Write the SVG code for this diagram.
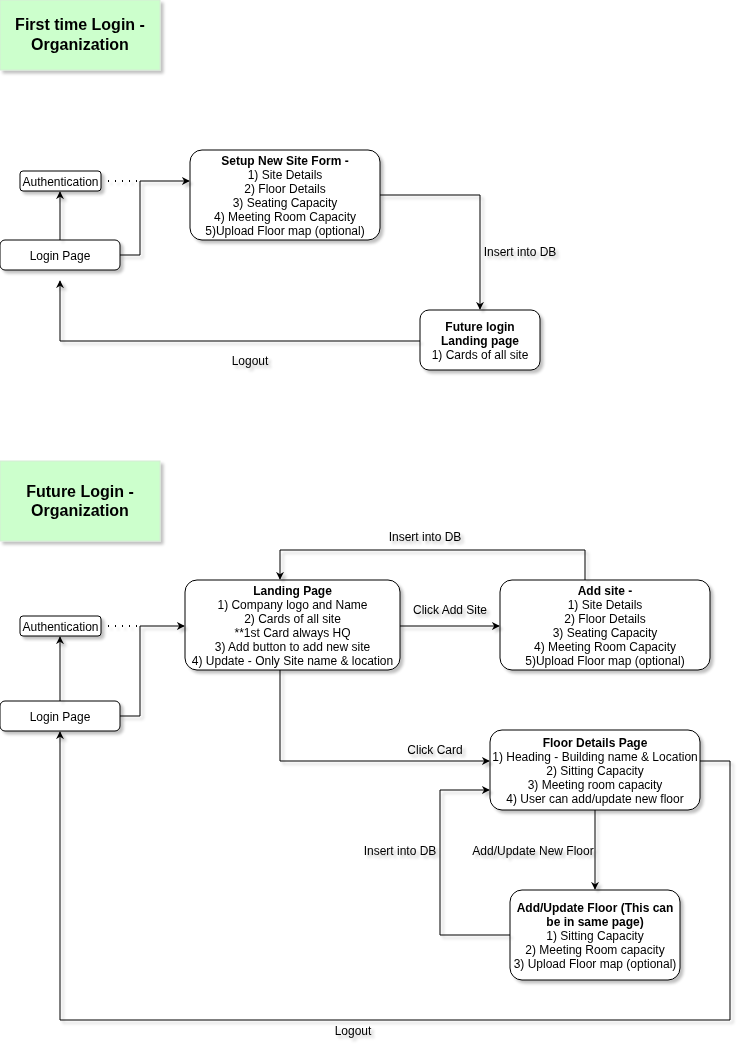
<svg xmlns="http://www.w3.org/2000/svg" width="751" height="1052" viewBox="0 0 751 1052">
<style>
  .box { fill: #ffffff; stroke: #000000; stroke-width: 1; }
  .title { fill: #ccffcc; stroke: #d5ecd5; stroke-width: 1; }
  text { font-family: "Liberation Sans", Arial, sans-serif; font-size: 12px; fill: #000; text-anchor: middle; }
  .b { font-weight: bold; }
  .tt { font-size: 16px; font-weight: bold; }
  .edge { fill: none; stroke: #000; stroke-width: 1; }
  .dot { fill: none; stroke: #000; stroke-width: 2; stroke-dasharray: 1 6; }
  .sh { filter: url(#shadow); }
</style>
<defs>
  <filter id="shadow" x="-10%" y="-10%" width="130%" height="140%">
    <feGaussianBlur in="SourceAlpha" stdDeviation="1.5"/>
    <feOffset dx="3" dy="3" result="o"/>
    <feComponentTransfer><feFuncA type="linear" slope="0.25"/></feComponentTransfer>
    <feMerge><feMergeNode/><feMergeNode in="SourceGraphic"/></feMerge>
  </filter>
  <marker id="arr" viewBox="0 0 10 10" refX="9" refY="5" markerWidth="8" markerHeight="8" markerUnits="userSpaceOnUse" orient="auto">
    <path d="M0,0 L10,5 L0,10 L3,5 Z" fill="#000"/>
  </marker>
</defs>
<rect width="751" height="1052" fill="#ffffff"/>

<g id="title1" class="sh">
  <rect class="title" x="0" y="0" width="160" height="70"/>
  <text class="tt" x="80" y="30">First time Login -</text>
  <text class="tt" x="80" y="50">Organization</text>
</g>

<g id="auth1" class="sh">
  <rect class="box" x="20" y="171" width="81" height="20" rx="3"/>
  <text x="60.5" y="185.5">Authentication</text>
</g>
<g id="login1" class="sh">
  <rect class="box" x="0" y="240" width="120" height="30" rx="5"/>
  <text x="60" y="259.5">Login Page</text>
</g>
<g id="setup" class="sh">
  <rect class="box" x="190" y="150" width="190" height="90" rx="12"/>
  <text class="b" x="285" y="165">Setup New Site Form -</text>
  <text x="285" y="179">1) Site Details</text>
  <text x="285" y="193">2) Floor Details</text>
  <text x="285" y="207">3) Seating Capacity</text>
  <text x="285" y="221">4) Meeting Room Capacity</text>
  <text x="285" y="235">5)Upload Floor map (optional)</text>
</g>
<g id="future1" class="sh">
  <rect class="box" x="420" y="310" width="120" height="60" rx="9"/>
  <text class="b" x="480" y="331">Future login</text>
  <text class="b" x="480" y="345">Landing page</text>
  <text x="480" y="359">1) Cards of all site</text>
</g>

<g id="title2" class="sh">
  <rect class="title" x="0" y="461" width="160" height="80"/>
  <text class="tt" x="80" y="497">Future Login -</text>
  <text class="tt" x="80" y="516">Organization</text>
</g>
<g id="auth2" class="sh">
  <rect class="box" x="20" y="616" width="81" height="20" rx="3"/>
  <text x="60.5" y="630.5">Authentication</text>
</g>
<g id="login2" class="sh">
  <rect class="box" x="0" y="701" width="120" height="30" rx="5"/>
  <text x="60" y="720.5">Login Page</text>
</g>
<g id="landing" class="sh">
  <rect class="box" x="185" y="580" width="215" height="90" rx="12"/>
  <text class="b" x="292.5" y="595">Landing Page</text>
  <text x="292.5" y="609">1) Company logo and Name</text>
  <text x="292.5" y="623">2) Cards of all site</text>
  <text x="292.5" y="637">**1st Card always HQ</text>
  <text x="292.5" y="651">3) Add button to add new site</text>
  <text x="292.5" y="665">4) Update - Only Site name &amp; location</text>
</g>
<g id="addsite" class="sh">
  <rect class="box" x="500" y="580" width="210" height="90" rx="12"/>
  <text class="b" x="605" y="595">Add site -</text>
  <text x="605" y="609">1) Site Details</text>
  <text x="605" y="623">2) Floor Details</text>
  <text x="605" y="637">3) Seating Capacity</text>
  <text x="605" y="651">4) Meeting Room Capacity</text>
  <text x="605" y="665">5)Upload Floor map (optional)</text>
</g>
<g id="floordetails" class="sh">
  <rect class="box" x="490" y="730" width="210" height="80" rx="12"/>
  <text class="b" x="595" y="747">Floor Details Page</text>
  <text x="595" y="761">1) Heading - Building name &amp; Location</text>
  <text x="595" y="775">2) Sitting Capacity</text>
  <text x="595" y="789">3) Meeting room capacity</text>
  <text x="595" y="803">4) User can add/update new floor</text>
</g>
<g id="addfloor" class="sh">
  <rect class="box" x="510" y="890" width="170" height="90" rx="12"/>
  <text class="b" x="595" y="912">Add/Update Floor (This can</text>
  <text class="b" x="595" y="926">be in same page)</text>
  <text x="595" y="940">1) Sitting Capacity</text>
  <text x="595" y="954">2) Meeting Room capacity</text>
  <text x="595" y="968">3) Upload Floor map (optional)</text>
</g>

<g id="connectors" class="sh">
  <path class="dot" d="M108,181 H140"/>
  <path class="edge" d="M120,255 H140 V181 H189" marker-end="url(#arr)"/>
  <path class="edge" d="M60,240 V192" marker-end="url(#arr)"/>
  <path class="edge" d="M380,195 H480 V309" marker-end="url(#arr)"/>
  <path class="edge" d="M420,341 H60 V281" marker-end="url(#arr)"/>

  <path class="dot" d="M108,626 H140"/>
  <path class="edge" d="M120,716 H140 V626 H184" marker-end="url(#arr)"/>
  <path class="edge" d="M60,701 V637" marker-end="url(#arr)"/>
  <path class="edge" d="M400,626 H499" marker-end="url(#arr)"/>
  <path class="edge" d="M585,580 V550 H280 V579" marker-end="url(#arr)"/>
  <path class="edge" d="M280,670 V761 H489" marker-end="url(#arr)"/>
  <path class="edge" d="M700,761 H730 V1020 H60 V732" marker-end="url(#arr)"/>
  <path class="edge" d="M595,810 V889" marker-end="url(#arr)"/>
  <path class="edge" d="M510,935 H440 V790 H489" marker-end="url(#arr)"/>

  <text x="520" y="256">Insert into DB</text>
  <text x="250" y="365">Logout</text>
  <text x="425" y="541">Insert into DB</text>
  <text x="450" y="614">Click Add Site</text>
  <text x="435" y="754">Click Card</text>
  <text x="400" y="855">Insert into DB</text>
  <text x="533" y="855">Add/Update New Floor</text>
  <text x="353" y="1035">Logout</text>
</g>
</svg>
